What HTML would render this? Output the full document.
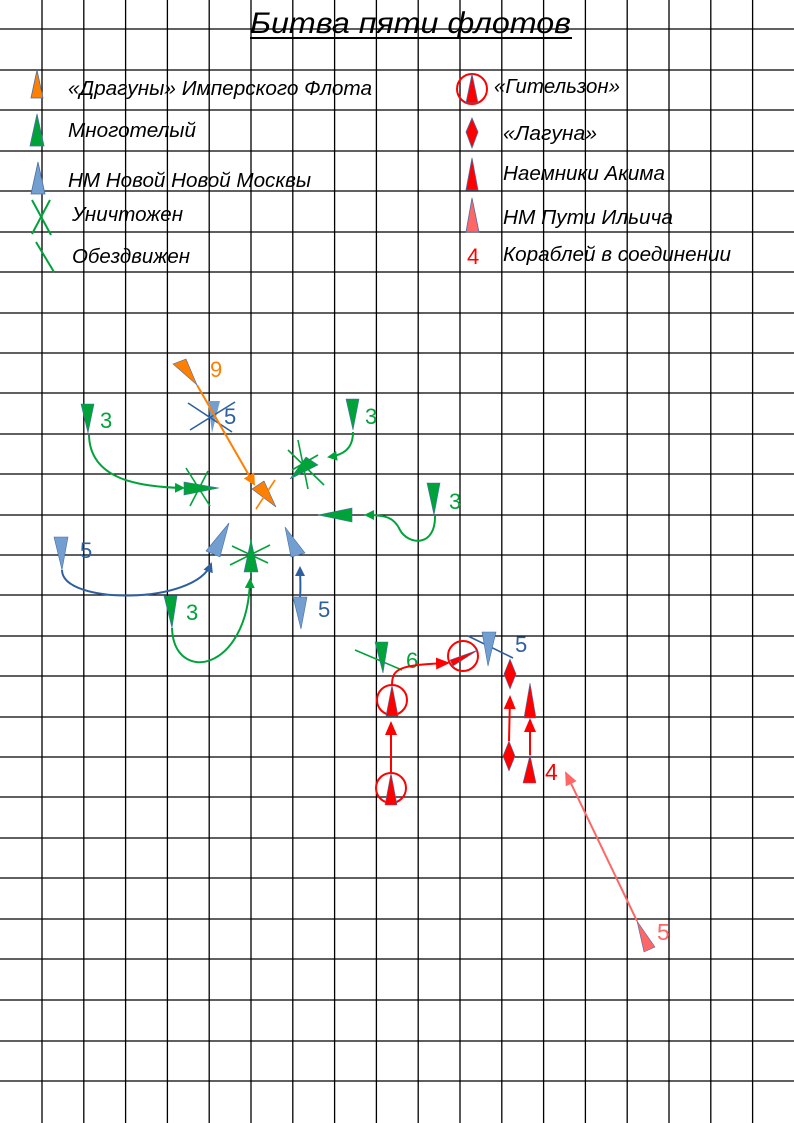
<!DOCTYPE html>
<html><head><meta charset="utf-8"><style>
html,body{margin:0;padding:0;background:#fff}
svg{display:block}
text{font-family:"Liberation Sans",sans-serif}
.it{font-style:italic;font-size:20px;fill:#000}
</style></head><body>
<svg width="794" height="1123" viewBox="0 0 794 1123" xmlns="http://www.w3.org/2000/svg">
<defs>
<marker id="mg" markerWidth="10" markerHeight="10" refX="8" refY="5" orient="auto" markerUnits="userSpaceOnUse"><path d="M0,0 L10,5 L0,10z" fill="#00a33a"/></marker>
<marker id="mb" markerWidth="10" markerHeight="10" refX="8" refY="5" orient="auto" markerUnits="userSpaceOnUse"><path d="M0,0 L10,5 L0,10z" fill="#2e5f9e"/></marker>
<marker id="mo" markerWidth="12" markerHeight="12" refX="10" refY="6" orient="auto" markerUnits="userSpaceOnUse"><path d="M0,0 L12,6 L0,12z" fill="#ff7f00"/></marker>
<marker id="mr" markerWidth="14" markerHeight="12" refX="12" refY="6" orient="auto" markerUnits="userSpaceOnUse"><path d="M0,0 L14,6 L0,12z" fill="#ff0000"/></marker>
<marker id="mp" markerWidth="14" markerHeight="12" refX="12" refY="6" orient="auto" markerUnits="userSpaceOnUse"><path d="M0,0 L14,6 L0,12z" fill="#ff6666"/></marker>
</defs>
<g stroke="#000" stroke-width="1.3">
<line x1="42" y1="0" x2="42" y2="1123"/><line x1="83.8" y1="0" x2="83.8" y2="1123"/><line x1="125.6" y1="0" x2="125.6" y2="1123"/><line x1="167.4" y1="0" x2="167.4" y2="1123"/><line x1="209.2" y1="0" x2="209.2" y2="1123"/><line x1="251" y1="0" x2="251" y2="1123"/><line x1="292.8" y1="0" x2="292.8" y2="1123"/><line x1="334.6" y1="0" x2="334.6" y2="1123"/><line x1="376.4" y1="0" x2="376.4" y2="1123"/><line x1="418.2" y1="0" x2="418.2" y2="1123"/><line x1="460" y1="0" x2="460" y2="1123"/><line x1="501.8" y1="0" x2="501.8" y2="1123"/><line x1="543.6" y1="0" x2="543.6" y2="1123"/><line x1="585.4" y1="0" x2="585.4" y2="1123"/><line x1="627.2" y1="0" x2="627.2" y2="1123"/><line x1="669" y1="0" x2="669" y2="1123"/><line x1="710.8" y1="0" x2="710.8" y2="1123"/><line x1="752.6" y1="0" x2="752.6" y2="1123"/>
<line x1="0" y1="29" x2="794" y2="29"/><line x1="0" y1="70" x2="794" y2="70"/><line x1="0" y1="110" x2="794" y2="110"/><line x1="0" y1="151" x2="794" y2="151"/><line x1="0" y1="191" x2="794" y2="191"/><line x1="0" y1="232" x2="794" y2="232"/><line x1="0" y1="272" x2="794" y2="272"/><line x1="0" y1="313" x2="794" y2="313"/><line x1="0" y1="353" x2="794" y2="353"/><line x1="0" y1="393" x2="794" y2="393"/><line x1="0" y1="434" x2="794" y2="434"/><line x1="0" y1="474" x2="794" y2="474"/><line x1="0" y1="515" x2="794" y2="515"/><line x1="0" y1="555" x2="794" y2="555"/><line x1="0" y1="595" x2="794" y2="595"/><line x1="0" y1="636" x2="794" y2="636"/><line x1="0" y1="676" x2="794" y2="676"/><line x1="0" y1="717" x2="794" y2="717"/><line x1="0" y1="757" x2="794" y2="757"/><line x1="0" y1="797" x2="794" y2="797"/><line x1="0" y1="838" x2="794" y2="838"/><line x1="0" y1="878" x2="794" y2="878"/><line x1="0" y1="919" x2="794" y2="919"/><line x1="0" y1="959" x2="794" y2="959"/><line x1="0" y1="1000" x2="794" y2="1000"/><line x1="0" y1="1041" x2="794" y2="1041"/><line x1="0" y1="1081" x2="794" y2="1081"/>
</g>
<text x="250" y="33" font-size="30" font-style="italic" textLength="321" lengthAdjust="spacingAndGlyphs" fill="#000">Битва пяти флотов</text>
<line x1="250" y1="38" x2="572" y2="38" stroke="#000" stroke-width="2"/>

<polygon points="37,70 43,98 31,98" fill="#ff7f00" stroke="#4a6fa8" stroke-width="0.8"/>
<text class="it" x="68" y="95" textLength="304" lengthAdjust="spacingAndGlyphs">«Драгуны» Имперского Флота</text>
<polygon points="37,114 44,146 30,146" fill="#00a33a" stroke="#4a6fa8" stroke-width="0.8"/>
<text class="it" x="68" y="137" textLength="128" lengthAdjust="spacingAndGlyphs">Многотелый</text>
<polygon points="38,162 45,194 31,194" fill="#729fcf" stroke="#4a6fa8" stroke-width="0.8"/>
<text class="it" x="68" y="187" textLength="243" lengthAdjust="spacingAndGlyphs">НМ Новой Новой Москвы</text>
<g stroke="#00a33a" stroke-width="2"><line x1="32" y1="200" x2="51" y2="235"/><line x1="50" y1="200" x2="32" y2="234"/><line x1="36" y1="242" x2="54" y2="272"/></g>
<text class="it" x="72" y="221" textLength="111" lengthAdjust="spacingAndGlyphs">Уничтожен</text>
<text class="it" x="72" y="263" textLength="118" lengthAdjust="spacingAndGlyphs">Обездвижен</text>

<circle cx="472" cy="89" r="15" fill="none" stroke="#ff0000" stroke-width="2"/>
<polygon points="472,74 478,103 466,103" fill="#ff0000" stroke="#4a6fa8" stroke-width="0.8"/>
<text class="it" x="494" y="93" textLength="126" lengthAdjust="spacingAndGlyphs">«Гительзон»</text>
<polygon points="472,118 478,132 472,148 466,132" fill="#ff0000" stroke="#4a6fa8" stroke-width="0.8"/>
<text class="it" x="503" y="140" textLength="94" lengthAdjust="spacingAndGlyphs">«Лагуна»</text>
<polygon points="472,158 478,190 466,190" fill="#ff0000" stroke="#4a6fa8" stroke-width="0.8"/>
<text class="it" x="503" y="180" textLength="162" lengthAdjust="spacingAndGlyphs">Наемники Акима</text>
<polygon points="472,198 479,232 466,232" fill="#ff6666" stroke="#4a6fa8" stroke-width="0.8"/>
<text class="it" x="503" y="224" textLength="170" lengthAdjust="spacingAndGlyphs">НМ Пути Ильича</text>
<text x="467" y="264" font-size="22" fill="#ff0000">4</text>
<text class="it" x="503" y="261" textLength="228" lengthAdjust="spacingAndGlyphs">Кораблей в соединении</text>

<polygon points="173,364 186,359 197,385" fill="#ff7f00" stroke="#4a6fa8" stroke-width="0.6"/>
<text x="210" y="377" font-size="22" fill="#ff7f00">9</text>
<polygon points="208,401 220,401 212,433" fill="#729fcf"/>
<g stroke="#2e5f9e" stroke-width="1.6"><line x1="188" y1="403" x2="232" y2="432"/><line x1="190" y1="430" x2="235" y2="402"/></g>
<text x="224" y="424" font-size="22" fill="#2e5f9e">5</text>
<line x1="197" y1="385" x2="254" y2="484" stroke="#ff7f00" stroke-width="2" marker-end="url(#mo)"/>
<polygon points="252,489 264,481 276,507" fill="#ff7f00" stroke="#4a6fa8" stroke-width="0.6"/>
<line x1="256" y1="509" x2="275" y2="480" stroke="#ff7f00" stroke-width="1.6"/>

<polygon points="81,404 94,404 88,433" fill="#00a33a" stroke="#4a6fa8" stroke-width="0.6"/>
<text x="100" y="428" font-size="22" fill="#00a33a">3</text>
<path d="M89,435 C90,480 140,487 183,488" fill="none" stroke="#00a33a" stroke-width="2" marker-end="url(#mg)"/>
<polygon points="184,482 184,495 219,488" fill="#00a33a" stroke="#4a6fa8" stroke-width="0.6"/>
<g stroke="#00a33a" stroke-width="1.6"><line x1="186" y1="468" x2="210" y2="506"/><line x1="208" y1="471" x2="190" y2="506"/><line x1="184" y1="488" x2="214" y2="488"/></g>

<polygon points="346,399 359,399 353,430" fill="#00a33a" stroke="#4a6fa8" stroke-width="0.6"/>
<text x="365" y="424" font-size="22" fill="#00a33a">3</text>
<path d="M353,432 C353,450 342,455 329,457" fill="none" stroke="#00a33a" stroke-width="2" marker-end="url(#mg)"/>
<polygon points="290,479 306,457 318,465" fill="#00a33a" stroke="#4a6fa8" stroke-width="0.6"/>
<g stroke="#00a33a" stroke-width="1.6"><line x1="298" y1="440" x2="308" y2="489"/><line x1="288" y1="450" x2="324" y2="485"/><line x1="292" y1="470" x2="318" y2="455"/></g>

<polygon points="427,483 440,483 434,515" fill="#00a33a" stroke="#4a6fa8" stroke-width="0.6"/>
<text x="449" y="509" font-size="22" fill="#00a33a">3</text>
<path d="M435,515 C436,548 408,545 400,530 C394,517 385,515 366,515" fill="none" stroke="#00a33a" stroke-width="2" marker-end="url(#mg)"/>
<polygon points="318,515 352,508 352,522" fill="#00a33a" stroke="#4a6fa8" stroke-width="0.6"/>

<polygon points="54,537 68,537 62,570" fill="#729fcf" stroke="#4a6fa8" stroke-width="0.6"/>
<text x="80" y="558" font-size="22" fill="#2e5f9e">5</text>
<path d="M62,570 C62,605 195,605 211,564" fill="none" stroke="#2e5f9e" stroke-width="2" marker-end="url(#mb)"/>
<polygon points="206,551 229,523 220,557" fill="#729fcf" stroke="#4a6fa8" stroke-width="0.6"/>

<polygon points="251,540 258,572 244,572" fill="#00a33a" stroke="#4a6fa8" stroke-width="0.6"/>
<g stroke="#00a33a" stroke-width="1.6"><line x1="230" y1="565" x2="270" y2="545"/><line x1="232" y1="546" x2="268" y2="563"/><line x1="251" y1="540" x2="251" y2="573"/></g>
<polygon points="164,596 177,596 172,628" fill="#00a33a" stroke="#4a6fa8" stroke-width="0.6"/>
<text x="186" y="620" font-size="22" fill="#00a33a">3</text>
<path d="M172,628 C174,685 248,672 250,580" fill="none" stroke="#00a33a" stroke-width="2" marker-end="url(#mg)"/>

<polygon points="285,527 305,553 291,557" fill="#729fcf" stroke="#4a6fa8" stroke-width="0.6"/>
<path d="M300,598 C301,585 300,575 300,568" fill="none" stroke="#2e5f9e" stroke-width="2" marker-end="url(#mb)"/>
<polygon points="293,597 307,597 301,629" fill="#729fcf" stroke="#4a6fa8" stroke-width="0.6"/>
<text x="318" y="617" font-size="22" fill="#2e5f9e">5</text>

<line x1="355" y1="650" x2="402" y2="670" stroke="#00a33a" stroke-width="1.6"/>
<polygon points="375,642 388,642 383,673" fill="#00a33a" stroke="#4a6fa8" stroke-width="0.6"/>
<text x="406" y="668" font-size="22" fill="#00a33a">6</text>

<circle cx="391" cy="788" r="15" fill="none" stroke="#ff0000" stroke-width="2"/>
<polygon points="391,773 397,805 385,805" fill="#ff0000" stroke="#4a6fa8" stroke-width="0.6"/>
<line x1="391" y1="773" x2="391" y2="723" stroke="#ff0000" stroke-width="2" marker-end="url(#mr)"/>
<circle cx="392" cy="700" r="15" fill="none" stroke="#ff0000" stroke-width="2"/>
<polygon points="392,685 398,716 386,716" fill="#ff0000" stroke="#4a6fa8" stroke-width="0.6"/>
<path d="M392,685 C392,668 400,665 448,663" fill="none" stroke="#ff0000" stroke-width="2" marker-end="url(#mr)"/>
<circle cx="463" cy="656" r="15" fill="none" stroke="#ff0000" stroke-width="2"/>
<polygon points="450,660 478,650 453,666" fill="#ff0000" stroke="#4a6fa8" stroke-width="0.6"/>
<line x1="468" y1="636" x2="513" y2="658" stroke="#2e5f9e" stroke-width="1.6"/>
<polygon points="482,632 496,632 488,666" fill="#729fcf" stroke="#4a6fa8" stroke-width="0.6"/>
<text x="515" y="652" font-size="22" fill="#2e5f9e">5</text>
<polygon points="510,659 516,674 510,689 504,674" fill="#ff0000" stroke="#4a6fa8" stroke-width="0.6"/>
<polygon points="509,741 515,756 509,771 503,756" fill="#ff0000" stroke="#4a6fa8" stroke-width="0.6"/>
<line x1="509" y1="741" x2="510" y2="697" stroke="#ff0000" stroke-width="2" marker-end="url(#mr)"/>
<polygon points="530,683 536,718 524,718" fill="#ff0000" stroke="#4a6fa8" stroke-width="0.6"/>
<polygon points="530,755 536,783 523,783" fill="#ff0000" stroke="#4a6fa8" stroke-width="0.6"/>
<line x1="530" y1="755" x2="530" y2="720" stroke="#ff0000" stroke-width="2" marker-end="url(#mr)"/>
<text x="545" y="780" font-size="23" fill="#ff0000">4</text>

<line x1="637" y1="921" x2="566" y2="773" stroke="#ff6666" stroke-width="2" marker-end="url(#mp)"/>
<polygon points="637,921 655,947 644,952" fill="#ff6666" stroke="#4a6fa8" stroke-width="0.6"/>
<text x="657" y="940" font-size="23" fill="#ff6666">5</text>
</svg>
</body></html>
